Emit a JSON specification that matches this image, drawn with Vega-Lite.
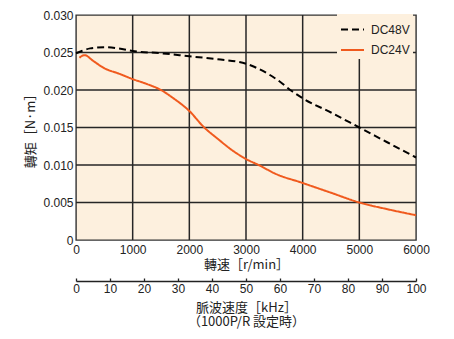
{
  "$schema": "https://vega.github.io/schema/vega-lite/v6.json",
  "width": 340,
  "height": 225,
  "autosize": "none",
  "padding": {"left": 76, "top": 15, "right": 38, "bottom": 99},
  "background": "white",
  "config": {
    "view": {"fill": "#fdf0de", "stroke": "#333333", "strokeWidth": 1.4},
    "font": "Liberation Sans",
    "axis": {
      "labelFont": "Liberation Sans",
      "labelFontSize": 12,
      "labelColor": "#222222",
      "titleFont": "Noto Sans CJK JP",
      "titleFontSize": 13,
      "titleFontWeight": "normal",
      "titleColor": "#222222"
    }
  },
  "layer": [
    {
      "data": {"values": [{"torque": 0.005}, {"torque": 0.01}, {"torque": 0.015}, {"torque": 0.02}, {"torque": 0.025}]},
      "mark": {"type": "rule", "color": "#262626", "strokeWidth": 1.5},
      "encoding": {
        "y": {
          "field": "torque",
          "type": "quantitative",
          "scale": {"domain": [0, 0.03], "nice": false},
          "axis": {
            "values": [0, 0.005, 0.01, 0.015, 0.02, 0.025, 0.03],
            "labelExpr": "datum.value == 0 ? '0' : format(datum.value, '.3f')",
            "labelOverlap": false,
            "grid": false,
            "domain": false,
            "ticks": false,
            "labelPadding": 3,
            "title": "轉矩［N·m］",
            "titlePadding": 5
          }
        }
      }
    },
    {
      "data": {"values": [{"rpm": 1000}, {"rpm": 2000}, {"rpm": 3000}, {"rpm": 4000}, {"rpm": 5000}]},
      "mark": {"type": "rule", "color": "#262626", "strokeWidth": 1.5},
      "encoding": {
        "x": {"field": "rpm", "type": "quantitative", "scale": {"domain": [0, 6000], "nice": false}, "axis": null}
      }
    },
    {
      "data": {
        "values": [
          {"series": "DC48V", "rpm": 0, "torque": 0.0249},
          {"series": "DC48V", "rpm": 100, "torque": 0.0252},
          {"series": "DC48V", "rpm": 250, "torque": 0.02555},
          {"series": "DC48V", "rpm": 500, "torque": 0.0257},
          {"series": "DC48V", "rpm": 750, "torque": 0.02555},
          {"series": "DC48V", "rpm": 1000, "torque": 0.0252},
          {"series": "DC48V", "rpm": 1500, "torque": 0.0249},
          {"series": "DC48V", "rpm": 2000, "torque": 0.0245},
          {"series": "DC48V", "rpm": 2500, "torque": 0.0241},
          {"series": "DC48V", "rpm": 3000, "torque": 0.0235},
          {"series": "DC48V", "rpm": 3400, "torque": 0.0221},
          {"series": "DC48V", "rpm": 3600, "torque": 0.0211},
          {"series": "DC48V", "rpm": 3800, "torque": 0.0199},
          {"series": "DC48V", "rpm": 4000, "torque": 0.0189},
          {"series": "DC48V", "rpm": 4500, "torque": 0.0170},
          {"series": "DC48V", "rpm": 5000, "torque": 0.0150},
          {"series": "DC48V", "rpm": 5500, "torque": 0.0130},
          {"series": "DC48V", "rpm": 6000, "torque": 0.0110},
          {"series": "DC24V", "rpm": 60, "torque": 0.0243},
          {"series": "DC24V", "rpm": 150, "torque": 0.02465},
          {"series": "DC24V", "rpm": 300, "torque": 0.0239},
          {"series": "DC24V", "rpm": 500, "torque": 0.0229},
          {"series": "DC24V", "rpm": 750, "torque": 0.0222},
          {"series": "DC24V", "rpm": 1000, "torque": 0.02145},
          {"series": "DC24V", "rpm": 1250, "torque": 0.0208},
          {"series": "DC24V", "rpm": 1500, "torque": 0.0200},
          {"series": "DC24V", "rpm": 1700, "torque": 0.0190},
          {"series": "DC24V", "rpm": 2000, "torque": 0.0172},
          {"series": "DC24V", "rpm": 2250, "torque": 0.0151},
          {"series": "DC24V", "rpm": 2500, "torque": 0.0135},
          {"series": "DC24V", "rpm": 2750, "torque": 0.0120},
          {"series": "DC24V", "rpm": 3000, "torque": 0.0108},
          {"series": "DC24V", "rpm": 3250, "torque": 0.0099},
          {"series": "DC24V", "rpm": 3500, "torque": 0.0089},
          {"series": "DC24V", "rpm": 4000, "torque": 0.0076},
          {"series": "DC24V", "rpm": 4500, "torque": 0.0063},
          {"series": "DC24V", "rpm": 5000, "torque": 0.0050},
          {"series": "DC24V", "rpm": 5500, "torque": 0.0041},
          {"series": "DC24V", "rpm": 6000, "torque": 0.0033}
        ]
      },
      "mark": {"type": "line", "interpolate": "monotone", "strokeWidth": 2},
      "encoding": {
        "x": {
          "field": "rpm",
          "type": "quantitative",
          "scale": {"domain": [0, 6000], "nice": false},
          "axis": {
            "values": [0, 1000, 2000, 3000, 4000, 5000, 6000],
            "format": "d",
            "grid": false,
            "domain": false,
            "ticks": false,
            "labelPadding": 4,
            "labelFlush": false,
            "title": "轉速［r/min］",
            "titlePadding": 3
          }
        },
        "y": {
          "field": "torque",
          "type": "quantitative",
          "scale": {"domain": [0, 0.03], "nice": false},
          "axis": {
            "values": [0, 0.005, 0.01, 0.015, 0.02, 0.025, 0.03],
            "labelExpr": "datum.value == 0 ? '0' : format(datum.value, '.3f')",
            "labelOverlap": false,
            "grid": false,
            "domain": false,
            "ticks": false,
            "labelPadding": 3,
            "title": "轉矩［N·m］",
            "titlePadding": 5
          }
        },
        "color": {
          "field": "series",
          "type": "nominal",
          "scale": {"domain": ["DC48V", "DC24V"], "range": ["#000000", "#f05a1e"]},
          "legend": {
            "orient": "none",
            "legendX": 261,
            "legendY": -1,
            "title": null,
            "fillColor": "#fdf0de",
            "padding": 3,
            "symbolType": "stroke",
            "symbolSize": 529,
            "symbolStrokeWidth": 2,
            "labelFont": "Liberation Sans",
            "labelFontSize": 12,
            "labelColor": "#222222",
            "labelOffset": 6,
            "rowPadding": 1.5
          }
        },
        "strokeDash": {
          "field": "series",
          "type": "nominal",
          "scale": {"domain": ["DC48V", "DC24V"], "range": [[7, 4], [1, 0]]},
          "legend": {
            "orient": "none",
            "legendX": 261,
            "legendY": -1,
            "title": null,
            "fillColor": "#fdf0de",
            "padding": 3,
            "symbolType": "stroke",
            "symbolSize": 529,
            "symbolStrokeWidth": 2,
            "labelFont": "Liberation Sans",
            "labelFontSize": 12,
            "labelColor": "#222222",
            "labelOffset": 6,
            "rowPadding": 1.5
          }
        }
      }
    },
    {
      "data": {"values": [{"khz": 0}, {"khz": 100}]},
      "mark": {"type": "point", "opacity": 0},
      "encoding": {
        "x": {
          "field": "khz",
          "type": "quantitative",
          "scale": {"domain": [0, 100], "nice": false},
          "axis": {
            "orient": "bottom",
            "offset": 41,
            "values": [0, 10, 20, 30, 40, 50, 60, 70, 80, 90, 100],
            "grid": false,
            "domain": true,
            "domainColor": "#222222",
            "domainWidth": 1.3,
            "ticks": true,
            "tickSize": -3,
            "tickColor": "#222222",
            "tickWidth": 1.3,
            "labelPadding": 5,
            "labelFlush": false,
            "title": ["脈波速度［kHz］", "（1000P/R 設定時）"],
            "titlePadding": 7,
            "titleLineHeight": 14.5
          }
        }
      }
    }
  ],
  "resolve": {"scale": {"x": "independent"}, "axis": {"x": "independent"}}
}
